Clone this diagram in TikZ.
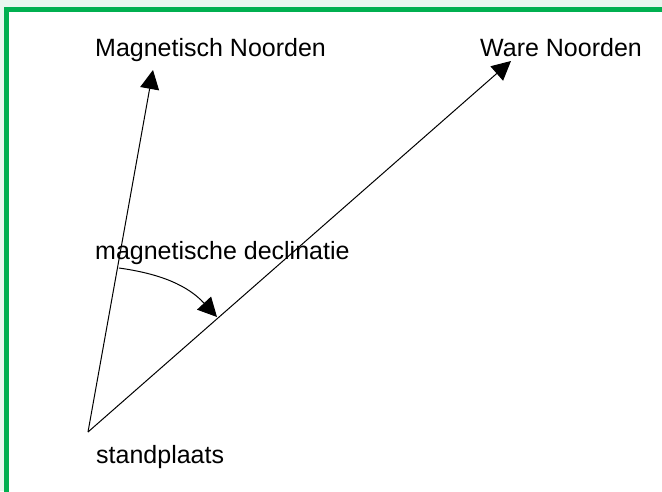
\documentclass[tikz,border=0pt]{standalone}
\usepackage{fontspec}
\setmainfont{Liberation Sans}
\usetikzlibrary{arrows.meta}
\definecolor{gb}{RGB}{0,176,80}
\definecolor{mint}{RGB}{232,247,239}
\tikzset{
    lbl/.style={anchor=base west,inner sep=0pt,font=\fontsize{25}{30}\selectfont},
    narr/.style={-{Triangle[length=19pt,width=19pt]},line width=1pt},
}
\begin{document}
\begin{tikzpicture}[x=1pt,y=1pt]
\useasboundingbox (0,0) rectangle (662,491);
\clip (0,0) rectangle (662,491);
\fill[mint] (0,0) rectangle (662,491);
\draw[gb,fill=white,line width=5pt] (6.5,-20) rectangle (700,481.5);
\coordinate (O) at (88,59);
\coordinate (mtip) at (153,421);
\coordinate (wtip) at (511,430);
\coordinate (d1) at (119,223);
\coordinate (d2) at (217,174);
\node[lbl] (mn) at (95,434) {Magnetisch Noorden};
\node[lbl] (wn) at (480,434) {Ware Noorden};
\node[lbl] (dec) at (95,232) {magnetische declinatie};
\node[lbl] (sp) at (96,28) {standplaats};
\draw[narr] (O) -- (mtip);
\draw[narr] (O) -- (wtip);
\draw[narr] (d1) to[out=-8,in=133] (d2);
\end{tikzpicture}
\end{document}
